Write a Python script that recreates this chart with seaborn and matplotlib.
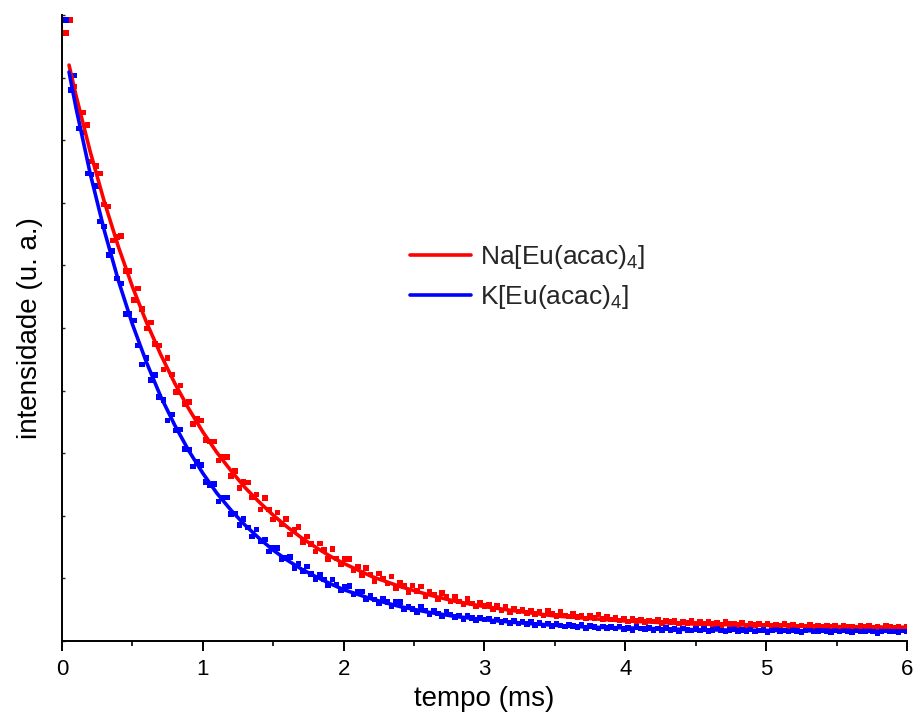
import matplotlib
matplotlib.use("Agg")
import matplotlib.pyplot as plt
import seaborn as sns
import pandas as pd
from matplotlib.ticker import MultipleLocator
from matplotlib.lines import Line2D

# ---------------- data ----------------
tempo = [
    0.03, 0.06, 0.09, 0.12, 0.15, 0.18, 0.21, 0.24, 0.27, 0.30,
    0.33, 0.36, 0.39, 0.42, 0.45, 0.48, 0.51, 0.54, 0.57, 0.60,
    0.63, 0.66, 0.69, 0.72, 0.75, 0.78, 0.81, 0.84, 0.87, 0.90,
    0.93, 0.96, 0.99, 1.02, 1.05, 1.08, 1.11, 1.14, 1.17, 1.20,
    1.23, 1.26, 1.29, 1.32, 1.35, 1.38, 1.41, 1.44, 1.47, 1.50,
    1.53, 1.56, 1.59, 1.62, 1.65, 1.68, 1.71, 1.74, 1.77, 1.80,
    1.83, 1.86, 1.89, 1.92, 1.95, 1.98, 2.01, 2.04, 2.07, 2.10,
    2.13, 2.16, 2.19, 2.22, 2.25, 2.28, 2.31, 2.34, 2.37, 2.40,
    2.43, 2.46, 2.49, 2.52, 2.55, 2.58, 2.61, 2.64, 2.67, 2.70,
    2.73, 2.76, 2.79, 2.82, 2.85, 2.88, 2.91, 2.94, 2.97, 3.00,
    3.03, 3.06, 3.09, 3.12, 3.15, 3.18, 3.21, 3.24, 3.27, 3.30,
    3.33, 3.36, 3.39, 3.42, 3.45, 3.48, 3.51, 3.54, 3.57, 3.60,
    3.63, 3.66, 3.69, 3.72, 3.75, 3.78, 3.81, 3.84, 3.87, 3.90,
    3.93, 3.96, 3.99, 4.02, 4.05, 4.08, 4.11, 4.14, 4.17, 4.20,
    4.23, 4.26, 4.29, 4.32, 4.35, 4.38, 4.41, 4.44, 4.47, 4.50,
    4.53, 4.56, 4.59, 4.62, 4.65, 4.68, 4.71, 4.74, 4.77, 4.80,
    4.83, 4.86, 4.89, 4.92, 4.95, 4.98, 5.01, 5.04, 5.07, 5.10,
    5.13, 5.16, 5.19, 5.22, 5.25, 5.28, 5.31, 5.34, 5.37, 5.40,
    5.43, 5.46, 5.49, 5.52, 5.55, 5.58, 5.61, 5.64, 5.67, 5.70,
    5.73, 5.76, 5.79, 5.82, 5.85, 5.88, 5.91, 5.94, 5.97, 6.00,
]

na_pontos = [
    0.971, 0.992, 0.886, 0.841, 0.844, 0.824, 0.766, 0.759, 0.747, 0.697,
    0.694, 0.640, 0.645, 0.647, 0.591, 0.591, 0.545, 0.563, 0.530, 0.499,
    0.509, 0.474, 0.472, 0.434, 0.452, 0.426, 0.398, 0.408, 0.379, 0.382,
    0.347, 0.355, 0.352, 0.321, 0.319, 0.319, 0.288, 0.294, 0.294, 0.264,
    0.272, 0.244, 0.254, 0.253, 0.229, 0.234, 0.210, 0.228, 0.210, 0.194,
    0.205, 0.187, 0.195, 0.170, 0.178, 0.182, 0.158, 0.167, 0.155, 0.143,
    0.156, 0.145, 0.131, 0.147, 0.132, 0.122, 0.131, 0.131, 0.113, 0.119,
    0.105, 0.117, 0.106, 0.096, 0.108, 0.100, 0.092, 0.103, 0.085, 0.093,
    0.088, 0.078, 0.089, 0.080, 0.087, 0.072, 0.078, 0.074, 0.066, 0.077,
    0.070, 0.063, 0.070, 0.063, 0.058, 0.067, 0.060, 0.055, 0.061, 0.056,
    0.058, 0.050, 0.057, 0.049, 0.054, 0.046, 0.052, 0.047, 0.050, 0.045,
    0.049, 0.043, 0.047, 0.041, 0.048, 0.043, 0.040, 0.046, 0.041, 0.039,
    0.043, 0.038, 0.041, 0.036, 0.040, 0.037, 0.042, 0.035, 0.038, 0.034,
    0.037, 0.033, 0.036, 0.031, 0.035, 0.032, 0.034, 0.030, 0.033, 0.031,
    0.034, 0.029, 0.032, 0.030, 0.033, 0.028, 0.031, 0.029, 0.032, 0.027,
    0.030, 0.028, 0.031, 0.027, 0.029, 0.026, 0.030, 0.027, 0.028, 0.026,
    0.029, 0.025, 0.028, 0.026, 0.027, 0.024, 0.028, 0.025, 0.026, 0.024,
    0.027, 0.024, 0.026, 0.023, 0.025, 0.023, 0.026, 0.022, 0.024, 0.023,
    0.025, 0.022, 0.024, 0.021, 0.025, 0.022, 0.023, 0.021, 0.024, 0.022,
    0.024, 0.021, 0.023, 0.020, 0.024, 0.022, 0.021, 0.023, 0.020, 0.022,
]

k_pontos = [
    0.992, 0.880, 0.903, 0.819, 0.812, 0.747, 0.745, 0.727, 0.670, 0.662,
    0.617, 0.623, 0.579, 0.571, 0.522, 0.523, 0.512, 0.472, 0.442, 0.452,
    0.417, 0.425, 0.390, 0.385, 0.352, 0.362, 0.336, 0.338, 0.307, 0.306,
    0.279, 0.287, 0.281, 0.254, 0.249, 0.251, 0.223, 0.229, 0.229, 0.203,
    0.204, 0.185, 0.195, 0.181, 0.167, 0.178, 0.159, 0.162, 0.143, 0.149,
    0.149, 0.131, 0.133, 0.134, 0.117, 0.124, 0.112, 0.119, 0.107, 0.098,
    0.106, 0.098, 0.089, 0.098, 0.090, 0.081, 0.086, 0.088, 0.074, 0.078,
    0.079, 0.067, 0.072, 0.066, 0.060, 0.068, 0.062, 0.055, 0.062, 0.062,
    0.051, 0.055, 0.051, 0.046, 0.054, 0.049, 0.043, 0.048, 0.044, 0.039,
    0.046, 0.042, 0.038, 0.041, 0.035, 0.041, 0.037, 0.033, 0.037, 0.034,
    0.036, 0.031, 0.034, 0.030, 0.033, 0.029, 0.032, 0.028, 0.031, 0.027,
    0.030, 0.026, 0.029, 0.025, 0.028, 0.024, 0.027, 0.025, 0.023, 0.026,
    0.024, 0.022, 0.026, 0.021, 0.024, 0.022, 0.020, 0.023, 0.021, 0.022,
    0.020, 0.023, 0.019, 0.021, 0.018, 0.022, 0.020, 0.019, 0.021, 0.018,
    0.020, 0.017, 0.021, 0.018, 0.019, 0.016, 0.020, 0.018, 0.017, 0.019,
    0.017, 0.019, 0.016, 0.018, 0.020, 0.017, 0.015, 0.018, 0.019, 0.016,
    0.018, 0.016, 0.019, 0.015, 0.017, 0.018, 0.014, 0.017, 0.019, 0.016,
    0.017, 0.015, 0.018, 0.016, 0.014, 0.017, 0.019, 0.015, 0.016, 0.018,
    0.016, 0.014, 0.017, 0.015, 0.018, 0.016, 0.014, 0.017, 0.015, 0.016,
    0.017, 0.015, 0.013, 0.016, 0.018, 0.015, 0.016, 0.014, 0.017, 0.015,
]

# fitted curves
tempo_ajuste = [0.05, 0.10, 0.20, 0.30, 0.40, 0.50, 0.60, 0.70, 0.80, 0.90,
                1.00, 1.10, 1.20, 1.30, 1.40, 1.50, 1.60, 1.70, 1.80, 1.90,
                2.00, 2.20, 2.40, 2.60, 2.80, 3.00, 3.25, 3.50, 3.75, 4.00,
                4.50, 5.00, 5.50, 6.00]
na_ajuste = [0.920, 0.871, 0.782, 0.702, 0.630, 0.566, 0.509, 0.458, 0.412, 0.371,
             0.334, 0.301, 0.272, 0.245, 0.222, 0.201, 0.182, 0.165, 0.150, 0.136,
             0.124, 0.103, 0.087, 0.074, 0.063, 0.055, 0.047, 0.040, 0.036, 0.032,
             0.027, 0.025, 0.023, 0.022]
k_ajuste = [0.909, 0.851, 0.747, 0.656, 0.576, 0.506, 0.445, 0.391, 0.345, 0.304,
            0.268, 0.236, 0.209, 0.185, 0.164, 0.145, 0.129, 0.115, 0.103, 0.092,
            0.082, 0.067, 0.055, 0.046, 0.039, 0.034, 0.029, 0.025, 0.022, 0.021,
            0.018, 0.017, 0.016, 0.016]

series = ["Na[Eu(acac)$_\\mathregular{4}$]", "K[Eu(acac)$_\\mathregular{4}$]"]
cores = ["#ff0000", "#0000ff"]

# ---------------- build tables ----------------
pontos = pd.DataFrame({
    "tempo": tempo + tempo,
    "intensidade": na_pontos + k_pontos,
    "serie": [series[0]] * len(tempo) + [series[1]] * len(tempo),
})
ajuste = pd.DataFrame({
    "tempo": tempo_ajuste + tempo_ajuste,
    "intensidade": na_ajuste + k_ajuste,
    "serie": [series[0]] * len(tempo_ajuste) + [series[1]] * len(tempo_ajuste),
})
paleta = dict(zip(series, cores))

# ---------------- plot ----------------
sns.set_theme(style="white")
plt.rcParams["font.family"] = ["Liberation Sans", "DejaVu Sans"]
plt.rcParams["mathtext.fontset"] = "custom"
plt.rcParams["mathtext.rm"] = "Liberation Sans"

fig = plt.figure(figsize=(9.17, 7.18), dpi=100)
ax = fig.add_axes([62 / 917, 1 - 641 / 718, (907 - 62) / 917, (641 - 15) / 718])

sns.scatterplot(data=pontos, x="tempo", y="intensidade", hue="serie",
                palette=paleta, marker="s", s=16, linewidth=0,
                legend=False, ax=ax, zorder=2)
sns.lineplot(data=ajuste, x="tempo", y="intensidade", hue="serie",
             palette=paleta, linewidth=2.6, legend=False, ax=ax,
             sort=False, zorder=3)

ax.set_xlim(0, 6)
ax.set_ylim(0, 1.0)
ax.xaxis.set_major_locator(MultipleLocator(1))
ax.xaxis.set_minor_locator(MultipleLocator(0.5))
ax.yaxis.set_major_locator(MultipleLocator(0.1))
ax.set_yticklabels([])

for side in ["top", "right"]:
    ax.spines[side].set_visible(False)
for side in ["left", "bottom"]:
    ax.spines[side].set_linewidth(1.4)
    ax.spines[side].set_color("black")

ax.tick_params(axis="x", which="major", direction="out", length=7, width=1.4,
               labelsize=16, pad=6, bottom=True, colors="black")
ax.tick_params(axis="x", which="minor", direction="out", length=3.8, width=1.4,
               bottom=True)
ax.tick_params(axis="y", which="major", direction="in", length=2.5, width=1.0,
               left=True, labelleft=False)

ax.set_xlabel("tempo (ms)", fontsize=20, labelpad=4, color="black")
ax.set_ylabel("intensidade (u. a.)", fontsize=20, labelpad=14, color="black")

handles = [Line2D([0], [0], color=c, lw=2.6) for c in cores]
ax.legend(handles, series, loc="upper left",
          bbox_to_anchor=(410 / 917, 1 - 243 / 718),
          bbox_transform=fig.transFigure, frameon=False, fontsize=19,
          handlelength=2.3, handletextpad=0.35, labelspacing=0.47,
          borderpad=0, borderaxespad=0)

fig.savefig("out.png", dpi=100)
